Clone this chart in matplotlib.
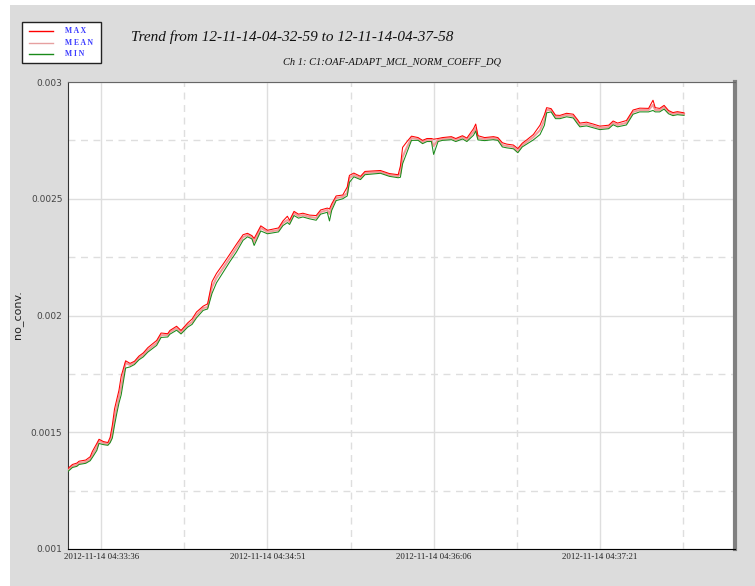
import datetime as dt
import matplotlib
matplotlib.use('Agg')
import matplotlib.pyplot as plt
import matplotlib.dates as mdates
from matplotlib.lines import Line2D
from matplotlib.patches import Rectangle
from matplotlib.ticker import FixedLocator, FuncFormatter

# seconds after 04:33:21, and channel values in units of 1e-6
secs = [0, 2, 4, 5, 8, 10, 11, 13, 14, 16,
        18, 19, 20, 21, 22, 23, 24, 26, 28, 30,
        32, 34, 36, 40, 42, 45, 46, 49, 51, 54,
        56, 58, 61, 63, 65, 67, 70, 73, 76, 79,
        81, 83, 84, 87, 90, 95, 97, 99, 100, 102,
        104, 106, 109, 112, 114, 117, 118, 119, 121, 124,
        126, 127, 129, 132, 134, 141, 145, 149, 150, 151,
        153, 155, 158, 160, 162, 164, 165, 167, 169, 173,
        175, 178, 180, 183, 184, 185, 188, 192, 194, 196,
        198, 201, 203, 205, 207, 210, 213, 215, 216, 218,
        220, 222, 225, 228, 230, 231, 234, 237, 240, 244,
        246, 248, 252, 255, 258, 262, 264, 265, 267, 269,
        271, 273, 275, 278]

val_mean = [1338, 1355, 1360, 1368, 1373, 1385, 1403, 1437, 1463, 1454,
            1450, 1463, 1497, 1561, 1608, 1651, 1694, 1797, 1788, 1797,
            1818, 1831, 1852, 1882, 1916, 1916, 1929, 1946, 1929, 1959,
            1972, 2002, 2032, 2036, 2122, 2161, 2203, 2246, 2289, 2336,
            2345, 2336, 2315, 2375, 2358, 2366, 2396, 2409, 2400, 2439,
            2426, 2430, 2422, 2418, 2443, 2452, 2435, 2465, 2503, 2508,
            2525, 2589, 2602, 2589, 2610, 2615, 2602, 2597, 2610, 2679,
            2722, 2760, 2756, 2743, 2752, 2752, 2726, 2752, 2756, 2760,
            2752, 2764, 2752, 2786, 2803, 2760, 2756, 2760, 2756, 2730,
            2726, 2722, 2705, 2730, 2743, 2764, 2794, 2837, 2880, 2880,
            2850, 2850, 2859, 2854, 2829, 2816, 2820, 2812, 2803, 2807,
            2825, 2816, 2825, 2872, 2880, 2880, 2902, 2880, 2880, 2893,
            2872, 2863, 2867, 2863]

val_max = [1345, 1362, 1368, 1376, 1381, 1395, 1418, 1452, 1470, 1460,
           1456, 1478, 1530, 1600, 1640, 1680, 1740, 1806, 1795, 1804,
           1826, 1840, 1862, 1893, 1925, 1922, 1936, 1954, 1936, 1968,
           1985, 2015, 2040, 2050, 2145, 2180, 2220, 2262, 2305, 2346,
           2352, 2342, 2330, 2384, 2365, 2375, 2405, 2425, 2408, 2446,
           2434, 2438, 2430, 2428, 2452, 2460, 2456, 2478, 2512, 2516,
           2550, 2600, 2610, 2596, 2617, 2621, 2608, 2603, 2640, 2720,
           2745, 2768, 2762, 2750, 2758, 2758, 2755, 2758, 2762, 2766,
           2758, 2770, 2760, 2800, 2820, 2770, 2762, 2766, 2762, 2740,
           2734, 2730, 2715, 2738, 2752, 2775, 2815, 2860, 2890, 2886,
           2858, 2857, 2866, 2862, 2838, 2824, 2828, 2820, 2811, 2815,
           2833, 2824, 2835, 2880, 2888, 2887, 2922, 2890, 2887, 2900,
           2878, 2869, 2873, 2868]

val_min = [1332, 1349, 1354, 1362, 1367, 1378, 1392, 1422, 1452, 1447,
           1444, 1455, 1475, 1530, 1580, 1625, 1660, 1775, 1780, 1790,
           1810, 1823, 1843, 1872, 1906, 1908, 1920, 1937, 1921, 1950,
           1962, 1990, 2022, 2028, 2095, 2140, 2185, 2230, 2272, 2322,
           2337, 2328, 2300, 2362, 2350, 2358, 2385, 2398, 2390, 2428,
           2417, 2422, 2414, 2408, 2434, 2442, 2405, 2450, 2492, 2500,
           2512, 2570, 2594, 2582, 2603, 2609, 2596, 2590, 2592, 2650,
           2700, 2750, 2750, 2736, 2745, 2745, 2690, 2745, 2750, 2753,
           2745, 2756, 2745, 2772, 2790, 2752, 2749, 2753, 2750, 2722,
           2718, 2714, 2697, 2722, 2734, 2752, 2775, 2815, 2868, 2872,
           2843, 2843, 2851, 2846, 2820, 2808, 2812, 2804, 2796, 2800,
           2817, 2808, 2816, 2862, 2872, 2872, 2878, 2872, 2872, 2884,
           2864, 2856, 2860, 2857]

tick_labels = ['2012-11-14 04:33:36', '2012-11-14 04:34:51',
               '2012-11-14 04:36:06', '2012-11-14 04:37:21']
y_ticks = [0.001, 0.0015, 0.002, 0.0025, 0.003]

title = 'Trend from 12-11-14-04-32-59 to 12-11-14-04-37-58'
channel = 'Ch 1: C1:OAF-ADAPT_MCL_NORM_COEFF_DQ'

t0 = dt.datetime(2012, 11, 14, 4, 33, 21)
times = [t0 + dt.timedelta(seconds=s) for s in secs]
y_mean = [v * 1e-6 for v in val_mean]
y_max = [v * 1e-6 for v in val_max]
y_min = [v * 1e-6 for v in val_min]

W, H = 755, 586
fig = plt.figure(figsize=(W / 100, H / 100), dpi=100, facecolor='white')
fig.add_artist(Rectangle((10 / W, 0), (W - 10) / W, (H - 5) / H,
                         transform=fig.transFigure, facecolor='#dcdcdc',
                         edgecolor='none', zorder=-10))

ax = fig.add_axes([68 / W, 37 / H, 667 / W, 467 / H])
ax.set_facecolor('white')

ax.plot(times, y_mean, color='#f29a9a', lw=1.5, zorder=3)
ax.plot(times, y_min, color='#1a8a1a', lw=0.75, zorder=4)
ax.plot(times, y_max, color='#ff0000', lw=0.75, zorder=5)

ax.set_xlim(t0, t0 + dt.timedelta(seconds=301))
ax.set_ylim(0.001, 0.003)

# time ticks every 75 s, dashed minor lines halfway between
major = [t0 + dt.timedelta(seconds=15 + 75 * k) for k in range(4)]
minor = [t0 + dt.timedelta(seconds=52.5 + 75 * k) for k in range(4)]
ax.xaxis.set_major_locator(FixedLocator(mdates.date2num(major)))
ax.xaxis.set_minor_locator(FixedLocator(mdates.date2num(minor)))
ax.set_xticklabels(tick_labels, fontsize=6.4, family='Liberation Serif', color='#222222')

ax.yaxis.set_major_locator(FixedLocator(y_ticks))
ax.yaxis.set_minor_locator(FixedLocator([0.00125, 0.00175, 0.00225, 0.00275]))
ax.yaxis.set_major_formatter(FuncFormatter(lambda v, p: '%g' % v))
for lab in ax.get_yticklabels():
    lab.set_fontsize(6.5)
    lab.set_color('#444444')

ax.tick_params(which='both', length=0)
ax.tick_params(axis='x', pad=3)
ax.tick_params(axis='y', pad=4)

ax.grid(which='major', color='#dedede', lw=1, ls='-')
ax.grid(which='minor', color='#dedede', lw=1, ls=(0, (5, 4)))
ax.set_axisbelow(True)

ax.spines['left'].set_color('#333333')
ax.spines['top'].set_color('#666666')
ax.spines['bottom'].set_color('#000000')
ax.spines['right'].set_color('#808080')
ax.spines['right'].set_linewidth(3)

fig.text(18 / W, 1 - 315 / H, 'no_conv.', rotation=90, fontsize=8,
         ha='center', va='center', color='#222222')

fig.text(131 / W, 1 - 37 / H, title, fontsize=11, fontstyle='italic',
         family='Liberation Serif', va='center', ha='left', color='#111111')
fig.text(283 / W, 1 - 62 / H, channel, fontsize=7.5, fontstyle='italic',
         family='Liberation Serif', va='center', ha='left', color='#111111')

# legend box
fig.add_artist(Rectangle((22 / W, 1 - 63 / H), 79 / W, 41 / H,
                         transform=fig.transFigure, facecolor='white',
                         edgecolor='#222222', lw=1))
legend_rows = [('M A X', '#ff0000', 31), ('M E A N', '#e6a0a0', 43), ('M I N', '#1a8a1a', 54)]
for name, col, yy in legend_rows:
    fig.add_artist(Line2D([29 / W, 53 / W], [1 - yy / H, 1 - yy / H],
                          transform=fig.transFigure, color=col, lw=1))
    fig.text(65 / W, 1 - yy / H, name, fontsize=5.5, fontweight='bold',
             family='Liberation Serif', color='#3a3aff', va='center', ha='left')

fig.savefig('out.png', dpi=100, facecolor=fig.get_facecolor())
